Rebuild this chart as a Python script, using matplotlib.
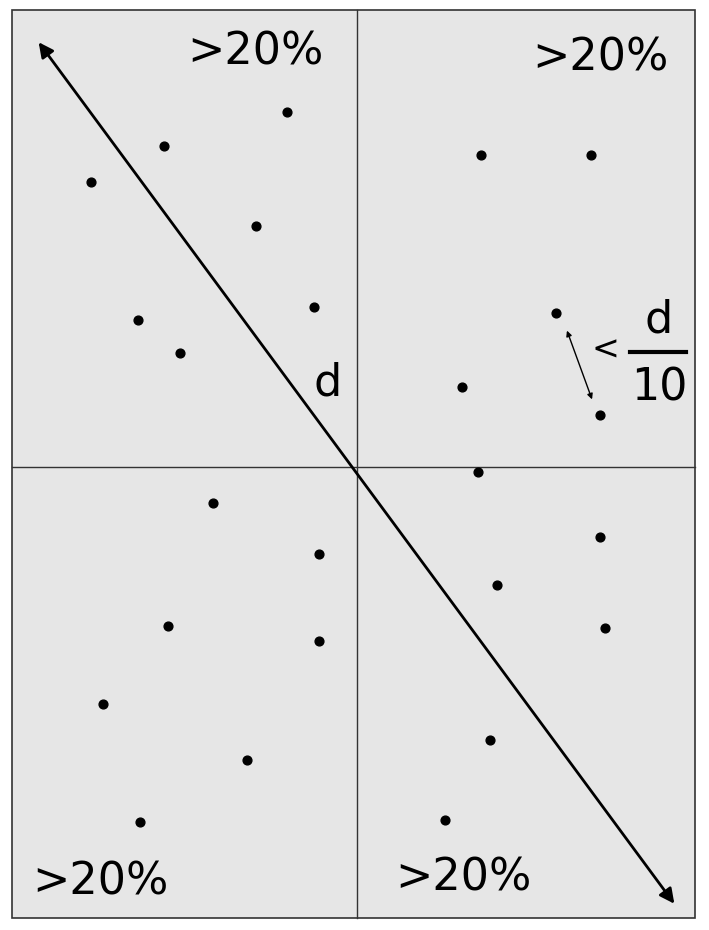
import matplotlib
matplotlib.use("Agg")
import matplotlib.pyplot as plt
from matplotlib.patches import Rectangle

pts_x = [287,164,91,256,314,138,180, 481,591,556,462,600,478, 600,497,605,490,445, 213,319,168,319,103,247,140]
pts_y = [112,146,182,226,307,320,353, 155,155,313,387,415,472, 537,585,628,740,820, 503,554,626,641,704,760,822]
labels = [">20%", ">20%", ">20%", ">20%"]
label_xy = [(255,52),(600,58),(100,882),(463,878)]

fig = plt.figure(figsize=(7.09,9.3), dpi=100)
ax = fig.add_axes([0,0,1,1])
ax.set_xlim(0,709); ax.set_ylim(930,0); ax.axis('off')
ax.add_patch(Rectangle((12,10),683,908,facecolor='#e6e6e6',edgecolor='#333',lw=1.2))
ax.plot([357,357],[10,918],color='#333',lw=1)
ax.plot([12,695],[467,467],color='#333',lw=1)
ax.annotate('', xy=(37,40), xytext=(676,906), arrowprops=dict(arrowstyle='<|-|>',color='black',lw=2,mutation_scale=22))
ax.annotate('', xy=(566,328), xytext=(593,402), arrowprops=dict(arrowstyle='<|-|>',color='black',lw=1,mutation_scale=8))
ax.scatter(pts_x, pts_y, s=40, color='black', zorder=3)
for t,(x,y) in zip(labels,label_xy):
    ax.text(x,y,t,fontsize=32,ha='center',va='center')
ax.text(328,383,'d',fontsize=32,ha='center',va='center')
ax.text(605,350,'<',fontsize=24,ha='center',va='center')
ax.text(659,320,'d',fontsize=32,ha='center',va='center')
ax.plot([630,686],[352,352],color='black',lw=3)
ax.text(659,388,'10',fontsize=32,ha='center',va='center')
fig.savefig('out.png', dpi=100)
